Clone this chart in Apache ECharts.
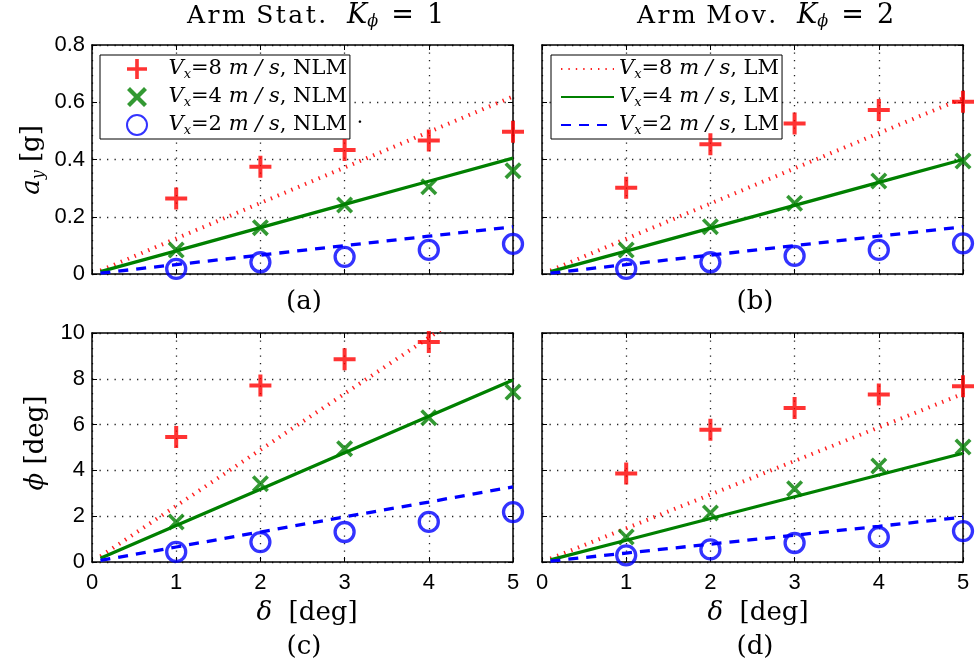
<!DOCTYPE html>
<html><head><meta charset="utf-8">
<script src="https://cdn.jsdelivr.net/npm/echarts@6/dist/echarts.min.js"></script>
<style>html,body{margin:0;padding:0;background:#fff}#c{width:977px;height:669px}</style>
</head><body><div id="c"></div>
<script>
// ---------- data ----------
const xTicks = [0, 1, 2, 3, 4, 5];
const pointDelta = [1, 2, 3, 4, 5];
const lineDelta = [0.1, 1, 2, 3, 4, 5];

// panel (a): a_y [g], arm static
const a_nlm8 = [0.264, 0.375, 0.433, 0.466, 0.497];
const a_nlm4 = [0.084, 0.162, 0.241, 0.305, 0.361];
const a_nlm2 = [0.018, 0.041, 0.060, 0.084, 0.105];
const a_lm8 = [0.012, 0.124, 0.248, 0.372, 0.496, 0.620];
const a_lm4 = [0.008, 0.081, 0.162, 0.243, 0.324, 0.405];
const a_lm2 = [0.003, 0.033, 0.066, 0.099, 0.132, 0.165];
// panel (b): a_y [g], arm moving
const b_nlm8 = [0.301, 0.453, 0.526, 0.573, 0.602];
const b_nlm4 = [0.084, 0.165, 0.247, 0.325, 0.395];
const b_nlm2 = [0.018, 0.041, 0.063, 0.084, 0.107];
const b_lm8 = [0.012, 0.123, 0.246, 0.369, 0.492, 0.614];
const b_lm4 = [0.008, 0.080, 0.160, 0.240, 0.320, 0.400];
const b_lm2 = [0.003, 0.033, 0.066, 0.099, 0.132, 0.165];
// panel (c): phi [deg], arm static
const c_nlm8 = [5.46, 7.71, 8.85, 9.61, null];
const c_nlm4 = [1.75, 3.42, 4.95, 6.30, 7.42];
const c_nlm2 = [0.44, 0.87, 1.31, 1.75, 2.18];
const c_lm8 = [0.245, 2.45, 4.90, 7.35, 9.80, 12.25];
const c_lm4 = [0.159, 1.59, 3.18, 4.77, 6.36, 7.95];
const c_lm2 = [0.066, 0.655, 1.31, 1.97, 2.62, 3.28];
// panel (d): phi [deg], arm moving
const d_nlm8 = [3.86, 5.78, 6.72, 7.31, 7.67];
const d_nlm4 = [1.09, 2.14, 3.20, 4.19, 5.02];
const d_nlm2 = [0.29, 0.55, 0.83, 1.09, 1.35];
const d_lm8 = [0.147, 1.47, 2.94, 4.41, 5.88, 7.35];
const d_lm4 = [0.095, 0.95, 1.90, 2.85, 3.80, 4.75];
const d_lm2 = [0.039, 0.39, 0.78, 1.17, 1.56, 1.96];

const yTicksTop = [0, 0.2, 0.4, 0.6, 0.8];
const yTicksBottom = [0, 2, 4, 6, 8, 10];

// ---------- styling ----------
const SERIF = 'DejaVu Serif';
const SANS = 'Liberation Sans';
const RED = '#ff0000', GREEN = '#008000', BLUE = '#0000ff';
const PLUS = 'path://M9,0H13V9H22V13H13V22H9V13H0V9H9Z';
const CROSS = 'path://M0,3L3,0L10,7L17,0L20,3L13,10L20,17L17,20L10,13L3,20L0,17L7,10Z';

const grids = [
  {left: 92, top: 45, width: 421, height: 229},
  {left: 542, top: 45, width: 421, height: 229},
  {left: 92, top: 333, width: 421, height: 229},
  {left: 542, top: 333, width: 421, height: 229}
];
const GRIDLINE = {color: '#222', width: 1.3, type: [1.3, 6.2]};

function xAx(gi, pos, labels, split) {
  return {
    type: 'value', gridIndex: gi, position: pos, min: xTicks[0], max: xTicks[xTicks.length - 1], interval: 1,
    axisLine: {show: true, onZero: false, lineStyle: {color: '#000', width: 1.5}},
    axisTick: {show: true, inside: true, length: 5, lineStyle: {color: '#000', width: 1}},
    axisLabel: {show: labels, margin: 10, color: '#000', fontFamily: SANS, fontSize: 22},
    splitLine: {show: split, lineStyle: GRIDLINE}
  };
}
function yAx(gi, pos, labels, split, ticks) {
  return {
    type: 'value', gridIndex: gi, position: pos, min: ticks[0], max: ticks[ticks.length - 1],
    interval: ticks[1] - ticks[0],
    axisLine: {show: true, onZero: false, lineStyle: {color: '#000', width: 1.5}},
    axisTick: {show: true, inside: true, length: 5, lineStyle: {color: '#000', width: 1}},
    axisLabel: {show: labels, margin: 7, color: '#000', fontFamily: SANS, fontSize: 22},
    splitLine: {show: split, lineStyle: GRIDLINE}
  };
}

const xAxis = [], yAxis = [];
for (let g = 0; g < 4; g++) {
  xAxis.push(xAx(g, 'bottom', g >= 2, true));
  xAxis.push(xAx(g, 'top', false, false));
  const t = g < 2 ? yTicksTop : yTicksBottom;
  yAxis.push(yAx(g, 'left', g % 2 === 0, true, t));
  yAxis.push(yAx(g, 'right', false, false, t));
}

function pts(ys) {
  const out = [];
  pointDelta.forEach((x, k) => { if (ys[k] != null) out.push([x, ys[k]]); });
  return out;
}
function lin(ys) { return lineDelta.map((x, k) => [x, ys[k]]); }

function lineSeries(name, g, ys, color, type, width) {
  return {name, type: 'line', xAxisIndex: 2 * g, yAxisIndex: 2 * g, data: lin(ys),
    symbol: 'none', showSymbol: false, clip: true, z: 3,
    lineStyle: {color, type, width}, itemStyle: {color}};
}
function scatterSeries(name, g, ys, kind) {
  const s = {name, type: 'scatter', xAxisIndex: 2 * g, yAxisIndex: 2 * g, data: pts(ys), clip: true, z: 4,
    symbolKeepAspect: true};
  if (kind === 'plus') { s.symbol = PLUS; s.symbolSize = 22; s.itemStyle = {color: RED}; }
  else if (kind === 'cross') { s.symbol = CROSS; s.symbolSize = 17; s.itemStyle = {color: GREEN}; }
  else { s.symbol = 'circle'; s.symbolSize = 19; s.itemStyle = {color: 'rgba(0,0,0,0)', borderColor: BLUE, borderWidth: 3.3}; }
  return s;
}

const panels = [
  [a_nlm8, a_nlm4, a_nlm2, a_lm8, a_lm4, a_lm2],
  [b_nlm8, b_nlm4, b_nlm2, b_lm8, b_lm4, b_lm2],
  [c_nlm8, c_nlm4, c_nlm2, c_lm8, c_lm4, c_lm2],
  [d_nlm8, d_nlm4, d_nlm2, d_lm8, d_lm4, d_lm2]
];
const series = [];
panels.forEach((p, g) => {
  series.push(lineSeries('LM8', g, p[3], '#ff2020', [1.4, 6], 4));
  series.push(lineSeries('LM4', g, p[4], GREEN, 'solid', 3.3));
  series.push(lineSeries('LM2', g, p[5], BLUE, [10, 8], 3.3));
  series.push(scatterSeries('NLM8', g, p[0], 'plus'));
  series.push(scatterSeries('NLM4', g, p[1], 'cross'));
  series.push(scatterSeries('NLM2', g, p[2], 'circle'));
});

const legendRich = {
  r: {fontFamily: SERIF, fontSize: 21, lineHeight: 22, color: '#000'},
  i: {fontFamily: SERIF, fontStyle: 'italic', fontSize: 21, lineHeight: 22, color: '#000'},
  s: {fontFamily: SERIF, fontStyle: 'italic', fontSize: 13, lineHeight: 22, padding: [11, 0, 0, 0], color: '#000'}
};
const legendText = {
  NLM8: '{i|V}{s|x}{r|=8 }{i|m / s}{r|, NLM}',
  NLM4: '{i|V}{s|x}{r|=4 }{i|m / s}{r|, NLM}',
  NLM2: '{i|V}{s|x}{r|=2 }{i|m / s}{r|, NLM}',
  LM8: '{i|V}{s|x}{r|=8 }{i|m / s}{r|, LM}',
  LM4: '{i|V}{s|x}{r|=4 }{i|m / s}{r|, LM}',
  LM2: '{i|V}{s|x}{r|=2 }{i|m / s}{r|, LM}'
};
function legendCfg(names, left, extra) {
  return Object.assign({
    data: names, left, top: 55, orient: 'vertical', itemWidth: 53, itemHeight: 20, itemGap: 4,
    padding: [2, 3, 2, 9], backgroundColor: '#fff', borderColor: '#000', borderWidth: 1, borderRadius: 0,
    selectedMode: false, formatter: n => legendText[n], textStyle: {rich: legendRich}
  }, extra || {});
}

function tRich(size, sub, pad) {
  return {
    r: {fontFamily: SERIF, fontSize: size, fill: '#000'},
    i: {fontFamily: SERIF, fontStyle: 'italic', fontSize: size, fill: '#000'},
    s: {fontFamily: SERIF, fontStyle: 'italic', fontSize: sub, padding: [pad, 0, 0, 0], fill: '#000'}
  };
}
function txt(x, y, text, size, rot, sub, pad, align) {
  return {type: 'text', x, y, rotation: rot || 0, z: 10,
    style: {text, fill: '#000', align: align || 'center', verticalAlign: 'middle', fontFamily: SERIF, fontSize: size,
      rich: tRich(size, sub || Math.round(size * 0.62), pad || Math.round(size * 0.55))}};
}
const SP = '\u200A';
const SIX = '\u2006';
function spaced(w) { return w.split('').join(SP); }
const graphic = [
  txt(187, 16, '{r|' + spaced('Arm') + ' ' + SP + spaced('Stat.') + '}', 25, 0, 16, 12, 'left'),
  txt(347, 16, '{i|K}{s|ϕ}{r| ' + SIX + '= ' + SIX + '1}', 27, 0, 16, 12, 'left'),
  txt(637, 16, '{r|' + spaced('Arm') + ' ' + SP + spaced('Mov.') + '}', 25, 0, 16, 12, 'left'),
  txt(797, 16, '{i|K}{s|ϕ}{r| ' + SIX + '= ' + SIX + '2}', 27, 0, 16, 12, 'left'),
  txt(304, 302, '{r|(a)}', 26),
  txt(755, 302, '{r|(b)}', 26),
  txt(304, 647, '{r|(c)}', 26),
  txt(755, 647, '{r|(d)}', 26),
  txt(307, 613, '{i|δ}{r|  [deg]}', 26),
  txt(758, 613, '{i|δ}{r|  [deg]}', 26),
  txt(32, 160, '{i|a}{s|y}{r| [g]}', 26, Math.PI / 2, 16, 14),
  txt(36, 443, '{i|ϕ}{r| [deg]}', 26, Math.PI / 2),
  txt(360, 118, '{r|.}', 20)
];

const chart = echarts.init(document.getElementById('c'), null, {renderer: 'canvas'});
chart.setOption({
  animation: false,
  backgroundColor: '#fff',
  grid: grids,
  xAxis, yAxis, series,
  legend: [
    legendCfg(['NLM8', 'NLM4', 'NLM2'], 100, {padding: [2, 3, 2, 26]}),
    legendCfg(['LM8', 'LM4', 'LM2'], 551, {itemStyle: {opacity: 0}})
  ],
  graphic
});
</script></body></html>
